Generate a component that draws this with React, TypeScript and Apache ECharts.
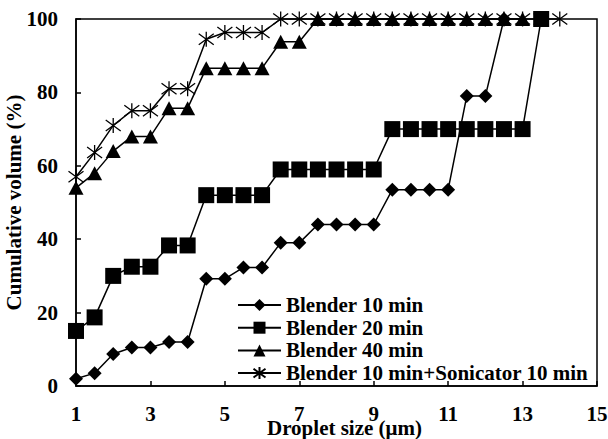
import React, { useEffect, useRef } from "react";
import * as echarts from "echarts";

const sizes = [1, 1.5, 2, 2.5, 3, 3.5, 4, 4.5, 5, 5.5, 6, 6.5, 7, 7.5, 8, 8.5, 9, 9.5, 10, 10.5, 11, 11.5, 12, 12.5, 13, 13.5, 14];
const blender10 = [2, 3.5, 8.7, 10.5, 10.5, 12, 12, 29.2, 29.2, 32.3, 32.3, 39, 39, 44, 44, 44, 44, 53.5, 53.5, 53.5, 53.5, 79, 79, 100];
const blender20 = [15, 18.7, 30, 32.5, 32.5, 38.3, 38.3, 52, 52, 52, 52, 59, 59, 59, 59, 59, 59, 70, 70, 70, 70, 70, 70, 70, 70, 100];
const blender40 = [54, 58, 64, 68, 68, 75.7, 75.7, 86.6, 86.6, 86.6, 86.6, 93.8, 93.8, 100, 100, 100, 100, 100, 100, 100, 100, 100, 100, 100, 100];
const sonicator = [57, 63.6, 71, 75, 75, 81, 81, 94.5, 96.3, 96.3, 96.3, 100, 100, 100, 100, 100, 100, 100, 100, 100, 100, 100, 100, 100, 100, 100, 100];
const seriesNames = ["Blender 10 min", "Blender 20 min", "Blender 40 min", "Blender 10 min+Sonicator 10 min"];
const xTicks = { min: 1, max: 15, interval: 2 };
const yTicks = { min: 0, max: 100, interval: 20 };

const FONT = "'Liberation Serif', 'Times New Roman', serif";
const FS = 21;
const STAR = "path://M7.5 0 L7.5 15 M1.5 2 L13.5 13 M1.5 13 L13.5 2";

function pairs(vals: number[]) {
  return vals.map((v, i) => [sizes[i], v]);
}

export default function App() {
  const ref = useRef<HTMLDivElement>(null);
  useEffect(() => {
    if (!ref.current) return;
    const chart = echarts.init(ref.current, null, { renderer: "svg" });
    const base = {
      type: "line" as const,
      clip: false,
      lineStyle: { color: "#000", width: 1.5 },
      itemStyle: { color: "#000" },
    };
    const txt = { fontFamily: FONT, fontWeight: "bold" as const, fontSize: FS, color: "#000" };
    chart.setOption({
      animation: false,
      backgroundColor: "#fff",
      grid: {
        left: 76, right: 11, top: 19, bottom: 53,
        outerBoundsMode: "none",
        containLabel: false,
        show: true, borderColor: "#000", borderWidth: 1.5, backgroundColor: "transparent",
      },
      legend: {
        orient: "vertical",
        left: 237,
        top: 294,
        padding: 0,
        itemWidth: 43,
        itemHeight: 15,
        itemGap: 0.7,
        data: seriesNames,
        textStyle: { ...txt, lineHeight: 22 },
      },
      xAxis: {
        type: "value",
        min: xTicks.min,
        max: xTicks.max,
        interval: xTicks.interval,
        name: "Droplet size (μm)",
        nameLocation: "middle",
        nameMoveOverlap: false,
        nameGap: 31,
        nameTextStyle: { ...txt, padding: [0, 0, 0, 16] },
        axisLine: { lineStyle: { color: "#000", width: 1.5 } },
        axisTick: { inside: true, length: 5, lineStyle: { color: "#000", width: 1.5 } },
        axisLabel: { ...txt, margin: 17 },
        splitLine: { show: false },
      },
      yAxis: {
        type: "value",
        min: yTicks.min,
        max: yTicks.max,
        interval: yTicks.interval,
        name: "Cumulative volume (%)",
        nameLocation: "middle",
        nameMoveOverlap: false,
        nameGap: 52,
        nameTextStyle: txt,
        axisLine: { lineStyle: { color: "#000", width: 1.5 } },
        axisTick: { inside: true, length: 5, lineStyle: { color: "#000", width: 1.5 } },
        axisLabel: { ...txt, margin: 18 },
        splitLine: { show: false },
      },
      series: [
        { ...base, name: seriesNames[0], data: pairs(blender10), symbol: "diamond", symbolSize: 14 },
        { ...base, name: seriesNames[1], data: pairs(blender20), symbol: "rect", symbolSize: 16 },
        { ...base, name: seriesNames[2], data: pairs(blender40), symbol: "triangle", symbolSize: [15, 14] },
        {
          ...base,
          name: seriesNames[3],
          data: pairs(sonicator),
          symbol: STAR,
          symbolSize: 15,
          itemStyle: { color: "#000", borderColor: "#000", borderWidth: 1.3 },
        },
      ],
    });
    return () => chart.dispose();
  }, []);
  return <div ref={ref} style={{ width: 608, height: 439, position: "absolute", left: 0, top: 0 }} />;
}
